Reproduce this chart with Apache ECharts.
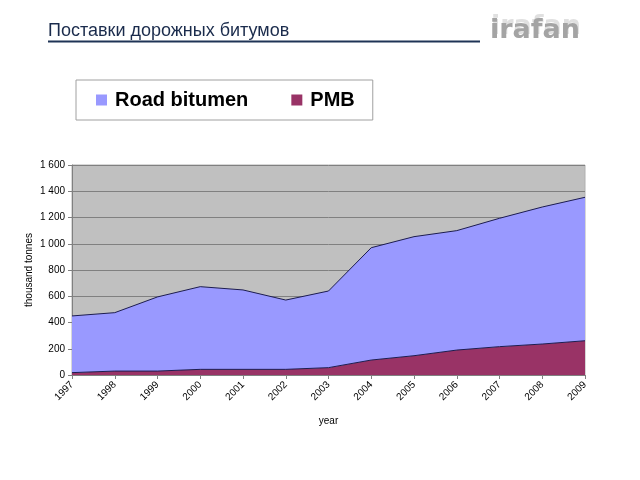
<!DOCTYPE html>
<html>
<head>
<meta charset="utf-8">
<script src="https://cdn.jsdelivr.net/npm/echarts@6/dist/echarts.min.js"></script>
<style>
html,body{margin:0;padding:0;background:#fff;}
#chart{width:640px;height:480px;}
</style>
</head>
<body>
<div id="chart"></div>
<script>
const years = ['1997','1998','1999','2000','2001','2002','2003','2004','2005','2006','2007','2008','2009'];
const pmb = [18, 30, 30, 43, 43, 43, 56, 114, 147, 190, 216, 236, 261];
const roadBitumen = [432, 445, 565, 630, 605, 528, 584, 856, 907, 910, 978, 1044, 1093];
const yTicks = [0, 200, 400, 600, 800, 1000, 1200, 1400, 1600];

const chart = echarts.init(document.getElementById('chart'), null, {renderer: 'canvas'});
const lineColor = '#1c1c50';
chart.setOption({
  backgroundColor: '#ffffff',
  animation: false,
  textStyle: {fontFamily: 'Liberation Sans, Arial, sans-serif'},
  graphic: [
    {type: 'text', left: 48, top: 22, style: {text: 'Поставки дорожных битумов', font: '18px "Liberation Sans", Arial, sans-serif', fill: '#1a2b4c'}},
    {type: 'line', shape: {x1: 48, y1: 41.5, x2: 480, y2: 41.5}, style: {stroke: '#1f3456', lineWidth: 2}},
    {type: 'text', left: 491, top: 13, style: {text: 'irafan', font: 'bold 27px "DejaVu Sans", sans-serif', fill: '#e0e0e0'}},
    {type: 'text', left: 490, top: 17, style: {text: 'irafan', font: 'bold 27px "DejaVu Sans", sans-serif', fill: '#a4a4a4'}}
  ],
  legend: {
    data: ['Road bitumen', 'PMB'],
    left: 76, top: 80,
    padding: [10, 18, 10, 20],
    borderColor: '#a0a0a0', borderWidth: 1,
    itemWidth: 11, itemHeight: 11, itemGap: 43,
    icon: 'rect',
    textStyle: {fontSize: 20, fontWeight: 'bold', color: '#000', fontFamily: 'Liberation Sans, Arial, sans-serif', padding: [0, 0, 0, 3]}
  },
  grid: {
    left: 72, right: 55, top: 165, bottom: 105,
    show: true, backgroundColor: '#c0c0c0', borderColor: '#b0b0b0', borderWidth: 1
  },
  xAxis: {
    type: 'category', data: years, boundaryGap: false,
    name: 'year', nameLocation: 'middle', nameGap: 41,
    nameTextStyle: {fontSize: 10, color: '#000'},
    axisLine: {lineStyle: {color: '#808080'}},
    axisTick: {show: true, length: 4, lineStyle: {color: '#808080'}},
    axisLabel: {rotate: 45, fontSize: 10, color: '#000', margin: 8},
    splitLine: {show: false}
  },
  yAxis: {
    type: 'value', min: 0, max: 1600, interval: 200,
    name: 'thousand tonnes', nameLocation: 'middle', nameGap: 38, nameMoveOverlap: false,
    nameTextStyle: {fontSize: 10, color: '#000'},
    axisLine: {show: true, lineStyle: {color: '#808080'}},
    axisTick: {show: true, length: 4, lineStyle: {color: '#808080'}},
    axisLabel: {fontSize: 10, color: '#000', margin: 7,
      formatter: v => yTicks.includes(v) ? String(v).replace(/\B(?=(\d{3})+(?!\d))/g, ' ') : ''},
    splitLine: {show: true, lineStyle: {color: '#808080', width: 1}}
  },
  series: [
    {name: 'PMB', type: 'line', stack: 'total', data: pmb, symbol: 'none',
     itemStyle: {color: '#993366'},
     lineStyle: {color: lineColor, width: 1},
     areaStyle: {color: '#993366', opacity: 1}},
    {name: 'Road bitumen', type: 'line', stack: 'total', data: roadBitumen, symbol: 'none',
     itemStyle: {color: '#9999ff'},
     lineStyle: {color: lineColor, width: 1},
     areaStyle: {color: '#9999ff', opacity: 1}}
  ]
});
</script>
</body>
</html>
